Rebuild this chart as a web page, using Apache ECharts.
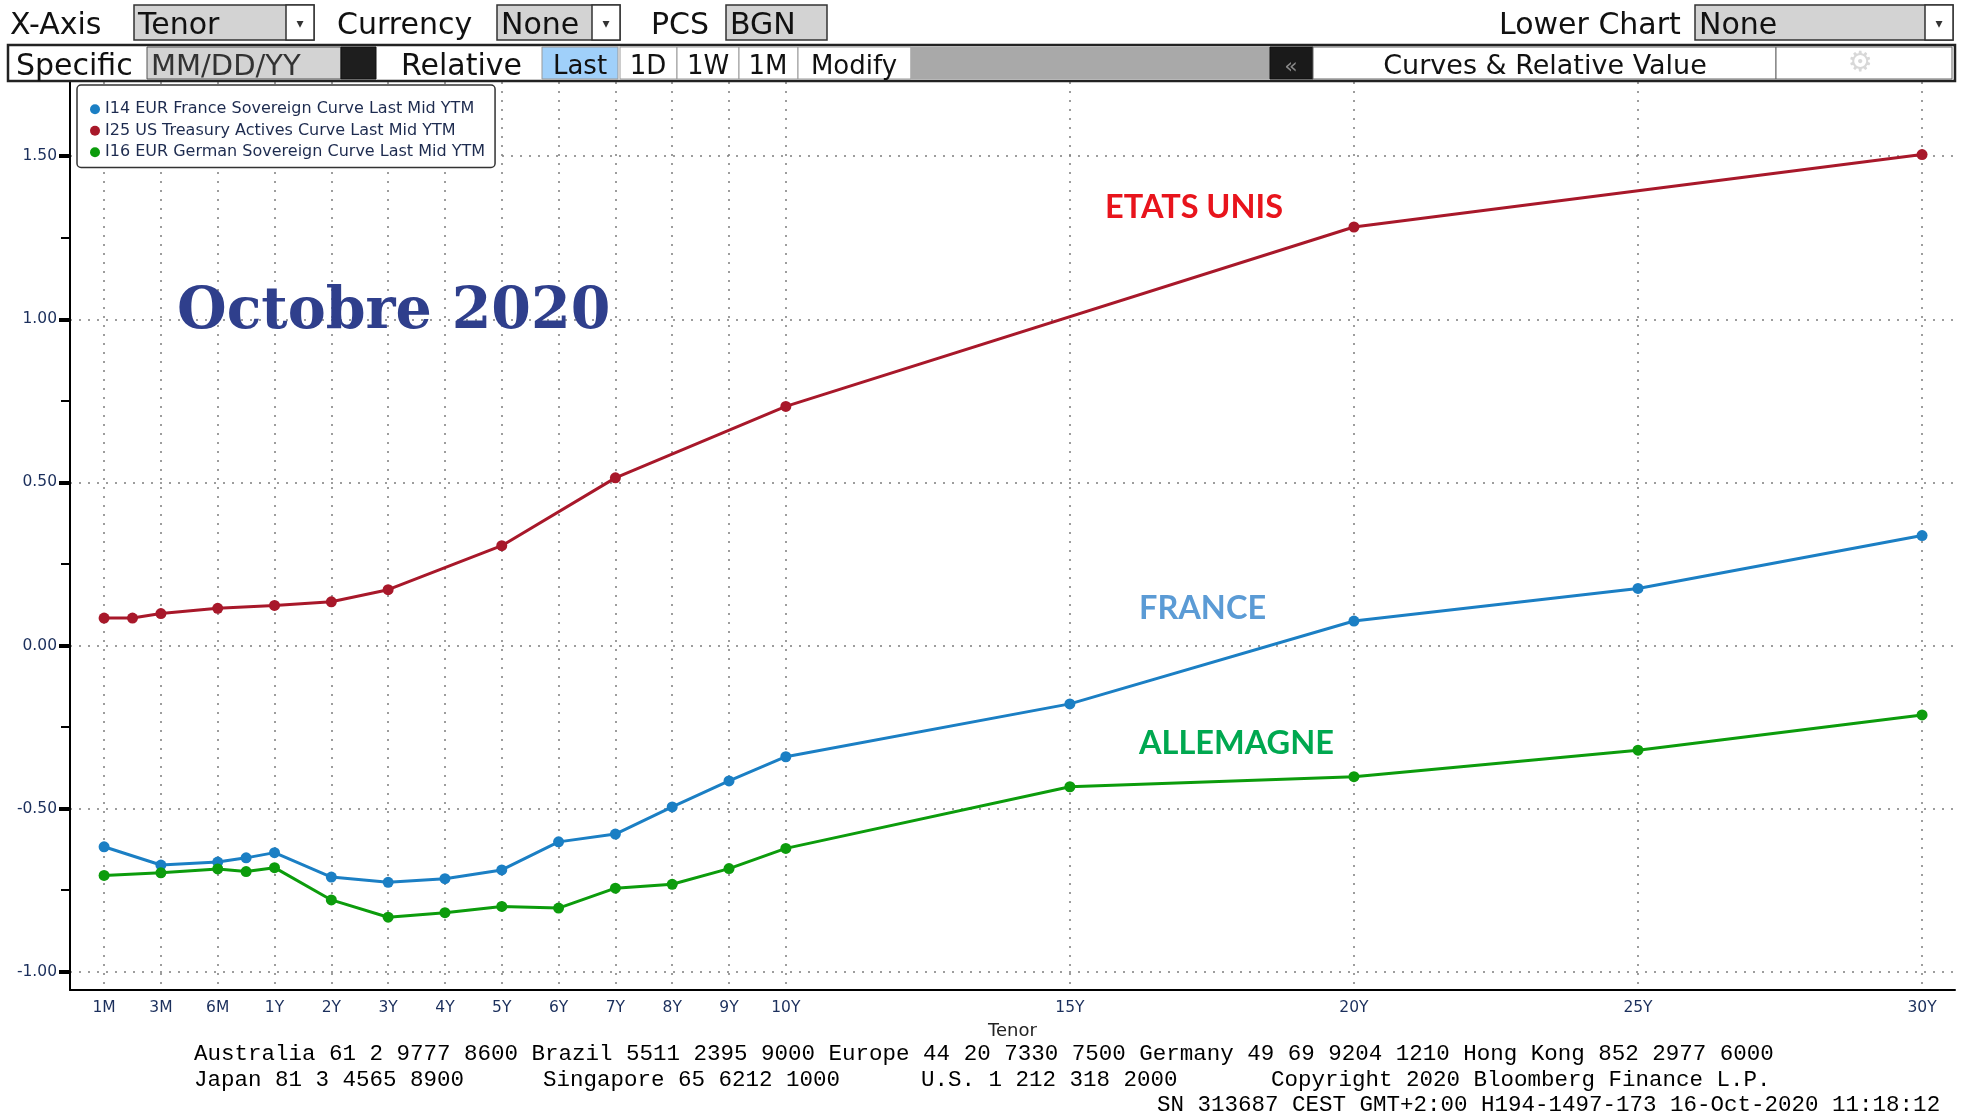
<!DOCTYPE html>
<html>
<head>
<meta charset="utf-8">
<script src="https://cdn.jsdelivr.net/npm/echarts@6/dist/echarts.min.js"></script>
<style>
  html, body { margin: 0; padding: 0; background: #fff; }
  #chart { width: 1967px; height: 1118px; }
</style>
</head>
<body>
<div id="chart"></div>
<script>
// tenor axis: 1M..10Y evenly spaced, then one slot per year out to 30Y
const tickLabels = ["1M", "3M", "6M", "1Y", "2Y", "3Y", "4Y", "5Y", "6Y", "7Y", "8Y", "9Y", "10Y", "15Y", "20Y", "25Y", "30Y"]

const usTenors = ["1M", "2M", "3M", "6M", "1Y", "2Y", "3Y", "5Y", "7Y", "10Y", "20Y", "30Y"]
const usYields = [0.084, 0.084, 0.098, 0.114, 0.123, 0.134, 0.171, 0.306, 0.514, 0.733, 1.283, 1.505]

const euTenors = ["1M", "3M", "6M", "9M", "1Y", "2Y", "3Y", "4Y", "5Y", "6Y", "7Y", "8Y", "9Y", "10Y", "15Y", "20Y", "25Y", "30Y"]
const franceYields = [-0.617, -0.673, -0.664, -0.651, -0.635, -0.71, -0.726, -0.715, -0.688, -0.602, -0.578, -0.495, -0.415, -0.341, -0.179, 0.075, 0.175, 0.337]
const germanyYields = [-0.705, -0.697, -0.685, -0.693, -0.681, -0.78, -0.833, -0.819, -0.8, -0.805, -0.744, -0.732, -0.684, -0.622, -0.433, -0.402, -0.321, -0.213]

const yTicks = [-1, -0.75, -0.5, -0.25, 0, 0.25, 0.5, 0.75, 1, 1.25, 1.5]
const yLabels = [-1, -0.5, 0, 0.5, 1, 1.5]

const names = {
  fr: "I14 EUR France Sovereign Curve Last Mid YTM",
  us: "I25 US Treasury Actives Curve Last Mid YTM",
  de: "I16 EUR German Sovereign Curve Last Mid YTM",
}

function slot(t) {
  const i = tickLabels.indexOf(t)
  if (i >= 0 && i <= 12) return i
  if (t === "2M") return 0.5
  if (t === "9M") return 2.5
  return 12 + (parseInt(t) - 10)
}

const slotLabel = {}
tickLabels.forEach((t) => (slotLabel[slot(t)] = t))

const UI = '"DejaVu Sans", sans-serif'
const Y_MIN = -1.0561
const Y_MAX = 1.7275

function txt(x, y, text, size, opts = {}) {
  return {
    type: "text",
    x, y,
    z: 10,
    style: {
      text,
      font: `${opts.weight || "normal"} ${size}px ${opts.family || UI}`,
      fill: opts.fill || "#111",
      align: opts.align || "left",
      verticalAlign: "middle",
    },
  }
}

function box(x, y, w, h, fill, stroke = "#333", lw = 1.5) {
  return {
    type: "rect",
    z: 9,
    shape: { x, y, width: w, height: h },
    style: { fill, stroke, lineWidth: lw },
  }
}

const R1 = 26
const R2 = 67

const toolbar = [
  // row 1
  txt(10, R1, "X-Axis", 30),
  box(134, 5, 180, 35, "#d3d3d3"), box(286, 5, 28, 35, "#fff"),
  txt(138, R1, "Tenor", 30), txt(300, 24, "▾", 14, { align: "center", fill: "#333" }),
  txt(337, R1, "Currency", 30),
  box(497, 5, 123, 35, "#d3d3d3"), box(592, 5, 28, 35, "#fff"),
  txt(501, R1, "None", 30), txt(606, 24, "▾", 14, { align: "center", fill: "#333" }),
  txt(651, R1, "PCS", 30),
  box(726, 5, 101, 35, "#d3d3d3"),
  txt(730, R1, "BGN", 30),
  txt(1499, R1, "Lower Chart", 30),
  box(1695, 5, 258, 35, "#d3d3d3"), box(1925, 5, 28, 35, "#fff"),
  txt(1699, R1, "None", 30), txt(1939, 24, "▾", 14, { align: "center", fill: "#333" }),
  // row 2
  box(8, 45, 1947, 36, "#fff", "#222", 2.5),
  txt(16, R2, "Specific", 30),
  box(147, 47, 194, 32, "#d3d3d3", "#555", 1), box(341, 47, 35, 32, "#1e1e1e", "#111", 1),
  txt(151, R2, "MM/DD/YY", 29, { fill: "#333" }),
  txt(401, R2, "Relative", 30),
  box(542, 47, 76, 32, "#a0d0fa", "#999", 1),
  txt(580, R2, "Last", 26, { align: "center" }),
  box(620, 47, 57, 32, "#fff", "#999", 1), txt(648, R2, "1D", 26, { align: "center" }),
  box(677, 47, 62, 32, "#fff", "#999", 1), txt(708, R2, "1W", 26, { align: "center" }),
  box(739, 47, 59, 32, "#fff", "#999", 1), txt(768, R2, "1M", 26, { align: "center" }),
  box(798, 47, 113, 32, "#fff", "#999", 1), txt(854, R2, "Modify", 26, { align: "center" }),
  box(911, 47, 359, 32, "#a9a9a9", "#a9a9a9", 1),
  box(1270, 47, 43, 32, "#1a1a1a", "#111", 1), txt(1291, R2, "«", 22, { align: "center", fill: "#888" }),
  box(1313, 47, 463, 32, "#fff", "#666", 1), txt(1545, R2, "Curves & Relative Value", 27, { align: "center" }),
  box(1776, 47, 176, 32, "#fff", "#666", 1), txt(1860, 64, "⚙", 28, { align: "center", fill: "#d8d8d8" }),
]

const notes = [
  txt(177, 313, "Octobre 2020", 57, { weight: "bold", family: '"DejaVu Serif", serif', fill: "#2f3f8c" }),
  txt(1105, 208, "ETATS UNIS", 32.5, { weight: "bold", family: "Lato, sans-serif", fill: "#e8141c" }),
  txt(1139, 609, "FRANCE", 32.5, { weight: "bold", family: "Lato, sans-serif", fill: "#5b9bd5" }),
  txt(1139, 744, "ALLEMAGNE", 32.5, { weight: "bold", family: "Lato, sans-serif", fill: "#00a850" }),
]

const MONO = '"Liberation Mono", "DejaVu Sans Mono", monospace'
const footer = [
  txt(194, 1054, "Australia 61 2 9777 8600 Brazil 5511 2395 9000 Europe 44 20 7330 7500 Germany 49 69 9204 1210 Hong Kong 852 2977 6000", 22.5, { family: MONO, fill: "#000" }),
  txt(194, 1080, "Japan 81 3 4565 8900", 22.5, { family: MONO, fill: "#000" }),
  txt(543, 1080, "Singapore 65 6212 1000", 22.5, { family: MONO, fill: "#000" }),
  txt(921, 1080, "U.S. 1 212 318 2000", 22.5, { family: MONO, fill: "#000" }),
  txt(1271, 1080, "Copyright 2020 Bloomberg Finance L.P.", 22.5, { family: MONO, fill: "#000" }),
  txt(1157, 1105, "SN 313687 CEST GMT+2:00 H194-1497-173 16-Oct-2020 11:18:12", 22.5, { family: MONO, fill: "#000" }),
]

function curve(name, tenors, yields, color) {
  return {
    name,
    type: "line",
    data: tenors.map((t, i) => [slot(t), yields[i]]),
    symbol: "circle",
    symbolSize: 11,
    showSymbol: true,
    itemStyle: { color },
    lineStyle: { color, width: 3 },
    emphasis: { disabled: true },
  }
}

const chart = echarts.init(document.getElementById("chart"))
chart.setOption({
  animation: false,
  backgroundColor: "#fff",
  grid: { left: 70, right: 12, top: 82, bottom: 128 },
  legend: {
    data: [names.fr, names.us, names.de],
    orient: "vertical",
    left: 77,
    top: 85,
    icon: "circle",
    itemWidth: 10,
    itemHeight: 10,
    itemGap: 3,
    padding: [15, 10, 6, 13],
    backgroundColor: "#fff",
    borderColor: "#333",
    borderWidth: 1.5,
    borderRadius: 4,
    selectedMode: false,
    textStyle: { fontFamily: UI, fontSize: 16, lineHeight: 18.5, color: "#1d2b4f" },
  },
  xAxis: {
    type: "value",
    min: -0.6,
    max: 32.58,
    name: "Tenor",
    nameLocation: "middle",
    nameGap: 32,
    nameTextStyle: { fontFamily: UI, fontSize: 18, color: "#222" },
    axisLine: { show: true, onZero: false, lineStyle: { color: "#000", width: 2 } },
    axisTick: { show: false, customValues: tickLabels.map(slot) },
    axisLabel: {
      customValues: tickLabels.map(slot),
      formatter: (v) => slotLabel[v] || "",
      fontFamily: UI,
      fontSize: 15.5,
      color: "#1b2f5c",
      margin: 10,
    },
    splitLine: { show: true, lineStyle: { color: "#7d7d7d", width: 1.5, type: [2, 7] } },
  },
  yAxis: [
    {
      type: "value",
      min: Y_MIN,
      max: Y_MAX,
      axisLine: { show: true, onZero: false, lineStyle: { color: "#000", width: 2 } },
      axisTick: { show: true, customValues: yTicks, length: 9, lineStyle: { color: "#000", width: 2 } },
      axisLabel: {
        customValues: yLabels,
        formatter: (v) => v.toFixed(2),
        fontFamily: UI,
        fontSize: 15.5,
        color: "#1b2f5c",
        margin: 13,
      },
      splitLine: {
        show: true,
        lineStyle: { color: ["#7d7d7d", "rgba(0,0,0,0)"], width: 1.5, type: [2, 7] },
      },
    },
    {
      // heavier major ticks at the labelled values
      type: "value",
      min: Y_MIN,
      max: Y_MAX,
      position: "left",
      axisLine: { show: false, onZero: false },
      axisTick: { show: true, customValues: yLabels, length: 11, lineStyle: { color: "#000", width: 4 } },
      axisLabel: { show: false },
      splitLine: { show: false },
    },
  ],
  series: [
    curve(names.fr, euTenors, franceYields, "#1b7fc4"),
    curve(names.us, usTenors, usYields, "#a8182a"),
    curve(names.de, euTenors, germanyYields, "#0c9c0c"),
  ],
  graphic: toolbar.concat(notes, footer),
})
</script>
</body>
</html>
